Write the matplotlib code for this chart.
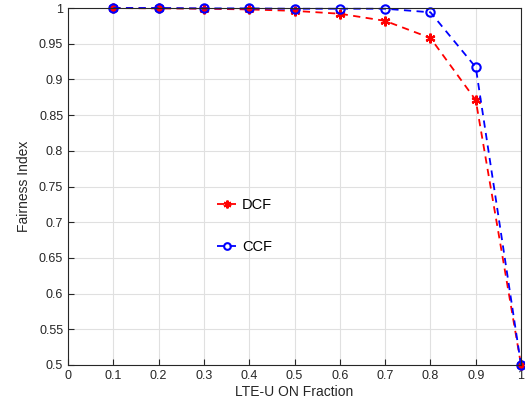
import numpy as np
import matplotlib
matplotlib.use('Agg')
from matplotlib import pyplot as plt

plt.rcParams['font.family'] = ['Liberation Sans', 'DejaVu Sans']

frac = [0.1, 0.2, 0.3, 0.4, 0.5, 0.6, 0.7, 0.8, 0.9, 1.0]
dcf = [1.0, 0.9995, 0.999, 0.998, 0.996, 0.992, 0.982, 0.958, 0.871, 0.5]
ccf = [1.0, 1.0, 0.9995, 0.9995, 0.999, 0.999, 0.999, 0.994, 0.917, 0.5]

fig = plt.figure(figsize=(5.25, 4.09), dpi=100)
ax = fig.add_axes([0.1295, 0.1076, 0.863, 0.8728])

ax.plot(frac, dcf, 'r--', marker=(6, 2, 0), markersize=7, markeredgewidth=1.6,
        linewidth=1.3, dashes=(4, 3), label='DCF', clip_on=False)
ax.plot(frac, ccf, 'b--', marker='o', markersize=6, markerfacecolor='none',
        markeredgewidth=1.5, linewidth=1.3, dashes=(4, 3), label='CCF', clip_on=False)

ax.set_xlim(0, 1)
ax.set_ylim(0.5, 1)
ax.set_xticks(np.arange(0, 1.01, 0.1))
ax.set_xticklabels(['0', '0.1', '0.2', '0.3', '0.4', '0.5', '0.6', '0.7', '0.8', '0.9', '1'])
ax.set_yticks(np.arange(0.5, 1.001, 0.05))
ax.set_yticklabels(['0.5', '0.55', '0.6', '0.65', '0.7', '0.75', '0.8', '0.85', '0.9', '0.95', '1'])
ax.tick_params(direction='in', labelsize=9, colors='#262626', length=4)
ax.grid(True, color='#e0e0e0', linewidth=0.8)
ax.set_axisbelow(True)
for s in ax.spines.values():
    s.set_color('#262626')
    s.set_linewidth(0.8)

ax.set_xlabel('LTE-U ON Fraction', fontsize=10, color='#262626', labelpad=2)
ax.set_ylabel('Fairness Index', fontsize=10, color='#262626', labelpad=6)

ax.legend(loc='upper left', bbox_to_anchor=(0.3, 0.504), frameon=False,
          handlelength=1.3, handletextpad=0.4, labelspacing=1.9, fontsize=10.5,
          markerscale=0.8)

fig.savefig('out.png', dpi=100)
